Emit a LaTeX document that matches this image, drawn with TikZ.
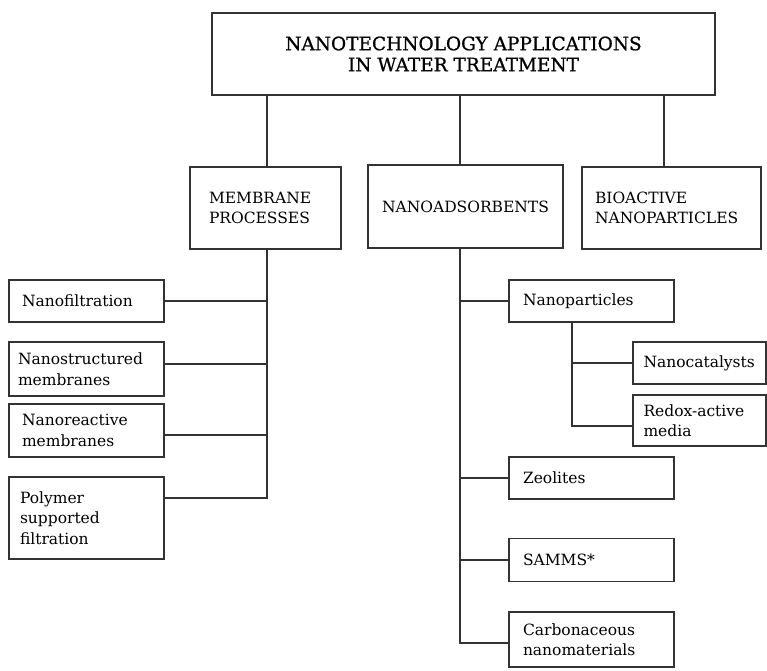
\documentclass[tikz,border=0pt]{standalone}
\usepackage{fontspec}
\setmainfont{DejaVu Serif}
\newfontfamily\titlefont[FakeBold=0.8]{DejaVu Serif}
\usetikzlibrary{positioning}

\begin{document}
\begin{tikzpicture}[x=1pt,y=-1pt,
    line width=1.1pt, draw=black!80,
    box/.style={draw, inner sep=0pt, font=\fontsize{15.5}{20.5}\selectfont},
    lbox/.style={box, align=left, inner xsep=#1},
    lbox/.default=12pt]
  \useasboundingbox (0,0) rectangle (767,670);

  % Top level
  \node[box, minimum width=503pt, minimum height=82pt, align=center,
        font=\titlefont\fontsize{18.5}{21}\selectfont]
    (top) at (463.5,54) {NANOTECHNOLOGY APPLICATIONS\\IN WATER TREATMENT};

  % Second level
  \node[lbox=19pt, minimum width=151pt, minimum height=82pt, text width=113pt]
    (mp) at (265.5,208) {MEMBRANE\\PROCESSES};
  \node[box, minimum width=195pt, minimum height=83pt]
    (na) at (465.5,206.5) {NANOADSORBENTS};
  \node[lbox=13pt, minimum width=179pt, minimum height=82pt, text width=153pt]
    (bio) at (671.5,208) {BIOACTIVE\\NANOPARTICLES};

  % Membrane processes
  \node[lbox=13pt, minimum width=155pt, minimum height=42pt, text width=129pt]
    (nf) at (86.5,301) {Nanofiltration};
  \node[lbox=9pt, minimum width=155pt, minimum height=54pt, text width=137pt]
    (ns) at (86.5,369) {Nanostructured\\membranes};
  \node[lbox=13pt, minimum width=155pt, minimum height=53pt, text width=129pt]
    (nr) at (86.5,430.5) {Nanoreactive\\membranes};
  \node[lbox=11pt, minimum width=155pt, minimum height=82pt, text width=133pt]
    (pf) at (86.5,518) {Polymer\\supported\\filtration};

  % Nanoadsorbents
  \node[lbox=14pt, minimum width=165pt, minimum height=42pt, text width=137pt]
    (np) at (591.5,301) {Nanoparticles};
  \node[lbox=10.5pt, minimum width=133pt, minimum height=42pt, text width=112pt]
    (nc) at (699.5,363) {Nanocatalysts};
  \node[lbox=10.5pt, minimum width=133pt, minimum height=51pt, text width=112pt]
    (rm) at (699.5,420.5) {Redox-active\\media};
  \node[lbox=14pt, minimum width=165pt, minimum height=42pt, text width=137pt]
    (ze) at (591.5,478) {Zeolites};
  \node[lbox=14pt, minimum width=165pt, minimum height=43pt, text width=137pt]
    (sa) at (591.5,560) {SAMMS*};
  \node[lbox=14pt, minimum width=165pt, minimum height=55pt, text width=137pt]
    (cb) at (591.5,639.5) {Carbonaceous\\nanomaterials};

  % Links from the top box
  \draw ([xshift=1.5pt]mp.north) -- ([xshift=1.5pt]mp.north |- top.south);
  \draw ([xshift=-5.5pt]na.north) -- ([xshift=-5.5pt]na.north |- top.south);
  \draw ([xshift=-7.5pt]bio.north) -- ([xshift=-7.5pt]bio.north |- top.south);

  % Membrane bus
  \coordinate (mpbus) at ([xshift=1.5pt]mp.south);
  \draw (mpbus) |- ([yshift=20pt]pf.east);
  \draw (nf.east) -- (nf.east -| mpbus);
  \draw ([yshift=5pt]ns.east) -- ([yshift=5pt]ns.east -| mpbus);
  \draw ([yshift=-4.5pt]nr.east) -- ([yshift=-4.5pt]nr.east -| mpbus);

  % Nanoadsorbent bus
  \coordinate (nabus) at ([xshift=-5.5pt]na.south);
  \draw (nabus) |- ([yshift=-3.5pt]cb.west);
  \draw (np.west) -- (np.west -| nabus);
  \draw (ze.west) -- (ze.west -| nabus);
  \draw (sa.west) -- (sa.west -| nabus);

  % Nanoparticle bus
  \coordinate (npbus) at ([xshift=-19.5pt]np.south);
  \draw (npbus) |- ([yshift=-5.5pt]rm.west);
  \draw (nc.west) -- (nc.west -| npbus);
\end{tikzpicture}
\end{document}
